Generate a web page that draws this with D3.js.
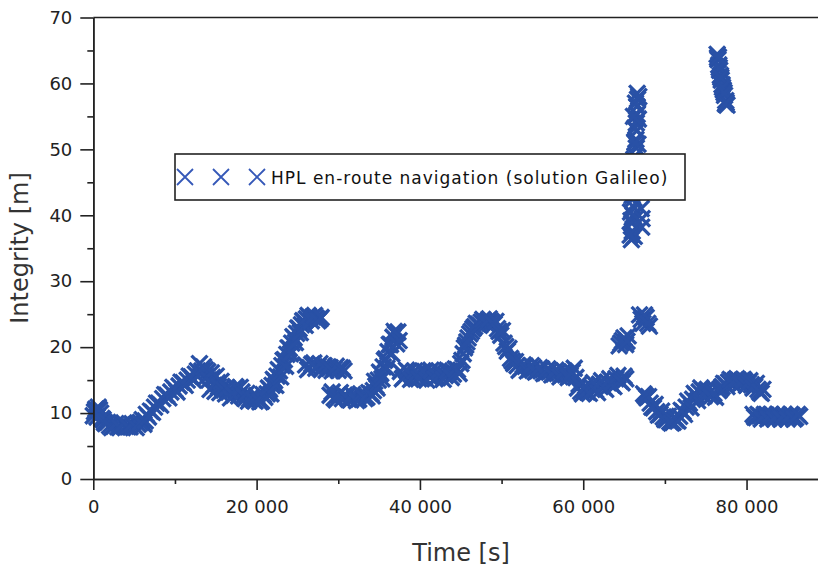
<!DOCTYPE html>
<html>
<head>
<meta charset="utf-8">
<script src="https://cdn.jsdelivr.net/npm/d3@7"></script>
<style>
  html, body { margin: 0; padding: 0; background: #fff; }
  svg { display: block; }
</style>
</head>
<body>
<script>
// HPL samples over one day: time of the sample [s] and the protection level [m]
const timeS = [
  0, 300, 600, 900, 1200,
  1500, 2000, 2500, 3000, 3500, 4000, 4500, 5000, 5500, 6000, 6200, 6500,
  7000, 7500, 8000, 8500, 9000, 9500, 10000, 10500, 11000, 11500, 12000, 12500, 13000, 13300, 13700,
  14000, 14300, 14600, 14900, 15200, 15500, 15800, 16200,
  16600, 17000, 17400, 17800, 18200, 18600, 19000, 19400, 19800, 20200, 20600, 21000,
  21300, 21600, 21900, 22200, 22500, 22800, 23100, 23400, 23700, 24000, 24300, 24600, 24900, 25200, 25500, 25800, 26100, 26500, 26900, 27300, 27700,
  26000, 26500, 27000, 27500, 28000, 28500, 29000, 29500, 30000, 30500,
  29000, 29500, 30000, 30500, 31000, 31500, 32000, 32500, 33000, 33500, 34000,
  34300, 34600, 34900, 35200, 35500, 35800, 36100, 36400, 36700, 37000, 37300,
  37600, 38100, 38600, 39100, 39600, 40100, 40600, 41100, 41600, 42100, 42600, 43100, 43600, 44100, 44600, 45000,
  45300, 45600, 45900, 46300, 46700, 47100, 47500, 47900, 48300, 48700, 49100, 49500, 49900, 50300, 50700, 51100, 51500,
  51900, 52400, 52900, 53400, 53900, 54400, 54900, 55400, 55900, 56400, 56900, 57400, 57900, 58400, 58900,
  59300, 59700, 60100, 60500, 61000, 61500, 62000, 62500, 63000, 63500, 64000, 64500, 65000,
  64400, 64800, 65200, 65500,
  66900, 67300, 67700, 68100,
  65900, 66000, 65950, 66100, 67100, 66050, 66200, 66150, 66300, 66250, 66400, 66350, 66500, 66450, 66550, 66500, 66600, 66550, 66650, 66600,
  67400, 67800, 68200, 68600, 69000, 69400, 69800, 70200, 70600, 71000,
  71400, 71800, 72200, 72600, 73000, 73400, 73800, 74200, 74600, 75000, 75400, 75800, 76200,
  76600, 77000, 77400, 77800, 78200, 78600, 79000, 79400, 79800, 80200, 80600, 81000, 81400, 81800,
  80800, 81200, 81600, 82000, 82400, 82800, 83200, 83600, 84000, 84400, 84800, 85200, 85600, 86000, 86500,
  76400, 76500, 76600, 76700, 76800, 76900, 77000, 77150, 77300, 77450, 77600,
  // second receiver pass
  150, 450, 750, 1050, 1350,
  1750, 2250, 2750, 3250, 3750, 4250, 4750, 5250, 5750, 6350, 6750,
  7250, 7750, 8250, 8750, 9250, 9750, 10250, 10750, 11250, 11750, 12250, 12750, 13150, 13500, 13850,
  14150, 14450, 14750, 15050, 15350, 15650, 16000, 16400,
  16800, 17200, 17600, 18000, 18400, 18800, 19200, 19600, 20000, 20400, 20800,
  21450, 21750, 22050, 22350, 22650, 22950, 23250, 23550, 23850, 24150, 24450, 24750, 25050, 25350, 25650, 25950, 26300, 26700, 27100, 27500, 27900,
  26250, 26750, 27250, 27750, 28250, 28750, 29250, 29750, 30250, 30700,
  29250, 29750, 30250, 30750, 31250, 31750, 32250, 32750, 33250, 33750, 34150,
  34450, 34750, 35050, 35350, 35650, 35950, 36250, 36550, 36850, 37150, 37450,
  37850, 38350, 38850, 39350, 39850, 40350, 40850, 41350, 41850, 42350, 42850, 43350, 43850, 44350, 44800,
  45150, 45450, 45750, 46100, 46500, 46900, 47300, 47700, 48100, 48500, 48900, 49300, 49700, 50100, 50500, 50900, 51300, 51700,
  52150, 52650, 53150, 53650, 54150, 54650, 55150, 55650, 56150, 56650, 57150, 57650, 58150, 58650, 59100,
  59500, 59900, 60300, 60750, 61250, 61750, 62250, 62750, 63250, 63750, 64250, 64750, 65200,
  64600, 65000, 65350, 67100, 67500, 67900,
  66250, 65850, 66400, 66000, 66500, 66200, 66700, 66300, 66750, 66400, 66800, 66350, 66150,
  65750, 67150, 65800, 67200,
  67600, 68000, 68400, 68800, 69200, 69600, 70000, 70400, 70800,
  71200, 71600, 72000, 72400, 72800, 73200, 73600, 74000, 74400, 74800, 75200, 75600, 76000,
  76800, 77200, 77600, 78000, 78400, 78800, 79200, 79600, 80000, 80400, 80800, 81200, 81600, 82000,
  81000, 81400, 81800, 82200, 82600, 83000, 83400, 83800, 84200, 84600, 85000, 85400, 85800, 86250,
  76450, 76650, 76850, 77050, 77250, 77500, 76550, 77400
];
const hplM = [
  9.6, 10.6, 10.9, 10.0, 9.0,
  8.4, 8.1, 8.0, 7.9, 8.2, 8.0, 7.9, 8.1, 8.3, 9.0, 8.3, 9.8,
  10.3, 10.9, 11.5, 12.2, 12.7, 13.2, 13.6, 14.1, 14.6, 15.0, 15.5, 15.9, 17.5, 16.4, 16.6,
  16.3, 13.6, 15.4, 13.3, 14.6, 13.1, 13.9, 12.9,
  13.2, 13.4, 14.0, 12.6, 13.2, 12.2, 11.8, 12.5, 11.8, 12.2, 11.8, 12.4,
  12.9, 13.6, 14.2, 14.9, 15.6, 16.4, 17.2, 18.1, 18.9, 19.8, 20.6, 21.4, 22.1, 22.8, 23.4, 23.9, 24.3, 24.5, 24.6, 24.4, 24.2,
  17.3, 16.9, 17.6, 17.1, 16.8, 16.5, 16.9, 16.7, 16.5, 16.8,
  12.7, 12.3, 12.8, 12.2, 12.5, 12.0, 12.4, 12.1, 12.6, 12.4, 12.9,
  13.4, 14.1, 15.0, 16.0, 17.0, 18.2, 19.3, 20.4, 21.5, 22.0, 22.3,
  16.3, 15.5, 16.2, 15.4, 16.0, 15.5, 16.3, 15.6, 16.1, 15.4, 16.1, 15.7, 16.3, 15.9, 16.6, 17.5,
  19.0, 20.3, 21.4, 22.4, 23.1, 23.5, 23.8, 23.9, 24.0, 23.9, 23.5, 22.8, 21.8, 20.6, 19.4, 18.3, 17.5,
  17.2, 16.8, 17.1, 16.6, 16.9, 16.4, 16.7, 16.1, 16.4, 15.9, 16.2, 15.8, 16.1, 15.7, 16.8,
  13.8, 13.3, 13.6, 13.2, 14.0, 13.5, 14.4, 13.9, 14.7, 14.3, 15.2, 14.9, 15.6,
  20.2, 21.0, 20.4, 21.7,
  24.9, 23.6, 24.5, 23.2,
  36.3, 37.6, 38.8, 40.0, 41.0, 41.4, 42.6, 44.0, 45.2, 46.5, 47.8, 49.0, 50.2, 51.5, 52.8, 54.0, 55.3, 56.5, 57.6, 58.5,
  12.9, 12.3, 11.5, 10.8, 10.2, 9.8, 9.4, 9.0, 8.7, 8.6,
  8.9, 9.5, 10.2, 10.9, 11.5, 12.1, 12.7, 13.2, 13.5, 13.3, 13.0, 12.7, 12.4,
  13.4, 14.0, 14.4, 14.7, 14.9, 15.0, 15.0, 14.9, 14.8, 14.6, 14.3, 14.0, 13.6, 13.0,
  9.8, 9.3, 9.6, 9.4, 9.7, 9.3, 9.5, 9.4, 9.6, 9.3, 9.5, 9.4, 9.6, 9.3, 9.5,
  64.4, 63.6, 62.8, 62.0, 61.2, 60.5, 59.8, 59.0, 58.2, 57.4, 56.7,
  // second receiver pass
  10.2, 9.4, 10.5, 9.2, 8.6,
  8.6, 7.8, 8.4, 7.8, 8.5, 7.9, 8.4, 7.8, 8.6, 8.8, 9.4,
  10.1, 11.5, 11.2, 12.8, 12.3, 13.9, 13.2, 14.7, 14.2, 15.6, 15.0, 16.4, 16.0, 17.0, 15.5,
  15.0, 16.1, 14.2, 15.6, 14.0, 14.8, 13.5, 13.8,
  12.3, 12.7, 13.7, 13.9, 12.6, 13.0, 12.2, 12.0, 12.6, 11.7, 12.8,
  13.8, 12.9, 15.1, 14.2, 16.6, 15.5, 18.0, 17.1, 19.9, 19.0, 21.6, 20.7, 22.9, 22.2, 24.0, 23.3, 24.8, 24.0, 24.8, 24.0, 24.5,
  16.6, 17.4, 16.8, 17.5, 17.2, 17.0, 16.4, 17.1, 16.9, 16.4,
  13.2, 12.0, 13.1, 12.7, 12.1, 12.8, 11.9, 12.9, 12.2, 13.1, 12.6,
  14.8, 13.8, 16.2, 15.2, 18.0, 16.8, 20.4, 19.0, 22.4, 20.5, 21.0,
  15.2, 16.5, 15.1, 16.4, 15.2, 16.4, 15.0, 16.5, 15.2, 16.4, 15.1, 16.5, 15.4, 16.7, 16.0,
  18.0, 19.9, 20.8, 22.0, 22.8, 23.6, 23.3, 24.2, 23.6, 24.3, 23.6, 23.9, 22.4, 22.5, 20.1, 19.8, 17.9, 17.8,
  16.5, 17.3, 16.4, 17.2, 16.2, 16.9, 16.0, 16.7, 15.8, 16.5, 15.5, 16.4, 15.4, 16.2, 15.4,
  14.4, 12.9, 14.1, 13.0, 14.6, 13.1, 14.9, 13.6, 15.2, 14.0, 15.7, 14.6, 15.2,
  20.6, 21.4, 20.9, 24.2, 24.9, 23.6,
  36.8, 39.2, 39.5, 43.0, 45.0, 48.5, 50.8, 53.2, 54.6, 57.0, 58.0, 51.0, 55.0,
  37.0, 38.2, 40.5, 39.5,
  12.6, 12.5, 10.9, 11.3, 9.7, 10.3, 9.0, 9.5, 8.5,
  9.3, 8.8, 10.4, 9.8, 11.8, 10.8, 13.0, 11.9, 13.8, 12.6, 13.6, 12.5, 13.0,
  13.7, 14.5, 14.0, 15.1, 14.3, 15.2, 14.4, 15.1, 14.2, 14.9, 13.8, 14.5, 13.2, 13.6,
  9.4, 9.8, 9.1, 9.8, 9.1, 9.8, 9.1, 9.8, 9.1, 9.8, 9.1, 9.8, 9.1, 9.8,
  63.9, 62.4, 60.9, 59.4, 58.6, 57.1, 64.0, 56.9
];

const yTicks = [0, 10, 20, 30, 40, 50, 60, 70];
const yMinorTicks = [5, 15, 25, 35, 45, 55, 65];
const xTicks = [0, 20000, 40000, 60000, 80000];
const xMinorTicks = [10000, 30000, 50000, 70000];
const seriesLabel = "HPL en-route navigation (solution Galileo)";
const xTitle = "Time [s]";
const yTitle = "Integrity [m]";

const W = 818, H = 569;
const markColor = "#2951a6";
const inkColor = "#222";
const fontFamily = "'DejaVu Sans', sans-serif";

const svg = d3.select("body").append("svg")
  .attr("width", W).attr("height", H);

const x = d3.scaleLinear().domain([0, 88750]).range([93.3, 818]);
const y = d3.scaleLinear().domain([0, 70]).range([479, 17.5]);

const spaced = d3.formatLocale({ decimal: ".", thousands: " ", grouping: [3], currency: ["", ""] }).format(",d");

// data marks: crosses
const cross = "M-8,-8L8,8M-8,8L8,-8";
const points = timeS.map((t, i) => ({ t, v: hplM[i] }));
svg.append("g")
  .selectAll("path")
  .data(points)
  .join("path")
  .attr("transform", d => `translate(${x(d.t)},${y(d.v)})`)
  .attr("d", cross)
  .attr("fill", "none")
  .attr("stroke", markColor)
  .attr("stroke-width", 3.3);

// top frame line
svg.append("line")
  .attr("x1", x(0)).attr("x2", W)
  .attr("y1", y(70)).attr("y2", y(70))
  .attr("stroke", inkColor).attr("stroke-width", 1.6);

function styleAxis(g) {
  g.select(".domain").attr("stroke", inkColor).attr("stroke-width", 1.6);
  g.selectAll(".tick line").attr("stroke", inkColor).attr("stroke-width", 1.6);
  g.selectAll(".tick text")
    .attr("fill", inkColor)
    .style("font-family", fontFamily)
    .style("font-size", "18px");
}

// minor ticks
svg.append("g")
  .attr("transform", `translate(${x(0)},0)`)
  .call(d3.axisLeft(y).tickValues(yMinorTicks).tickSize(6).tickSizeOuter(0).tickFormat(""))
  .call(styleAxis);
svg.append("g")
  .attr("transform", `translate(0,${y(0)})`)
  .call(d3.axisBottom(x).tickValues(xMinorTicks).tickSize(5).tickSizeOuter(0).tickFormat(""))
  .call(styleAxis);

// major axes
svg.append("g")
  .attr("transform", `translate(${x(0)},0)`)
  .call(d3.axisLeft(y).tickValues(yTicks).tickSize(13).tickSizeOuter(0).tickPadding(8))
  .call(styleAxis);
svg.append("g")
  .attr("transform", `translate(0,${y(0)})`)
  .call(d3.axisBottom(x).tickValues(xTicks).tickSize(11).tickSizeOuter(0).tickPadding(10).tickFormat(spaced))
  .call(styleAxis);

// axis titles
svg.append("text")
  .attr("x", 461).attr("y", 561)
  .attr("text-anchor", "middle")
  .attr("fill", "#333")
  .style("font-family", fontFamily)
  .style("font-size", "24px")
  .text(xTitle);
svg.append("text")
  .attr("transform", "translate(28,248) rotate(-90)")
  .attr("text-anchor", "middle")
  .attr("fill", "#333")
  .style("font-family", fontFamily)
  .style("font-size", "24px")
  .text(yTitle);

// legend
const lg = svg.append("g");
lg.append("rect")
  .attr("x", 175).attr("y", 154)
  .attr("width", 510).attr("height", 46)
  .attr("fill", "#fff")
  .attr("stroke", inkColor).attr("stroke-width", 1.6);
lg.selectAll("path")
  .data([185, 221, 257])
  .join("path")
  .attr("transform", d => `translate(${d},177)`)
  .attr("d", cross)
  .attr("fill", "none")
  .attr("stroke", "#3558b8")
  .attr("stroke-width", 1.8);
lg.append("text")
  .attr("x", 271).attr("y", 183.5)
  .attr("fill", "#111")
  .style("font-family", fontFamily)
  .style("font-size", "17px")
  .style("letter-spacing", "1px")
  .text(seriesLabel);
</script>
</body>
</html>
